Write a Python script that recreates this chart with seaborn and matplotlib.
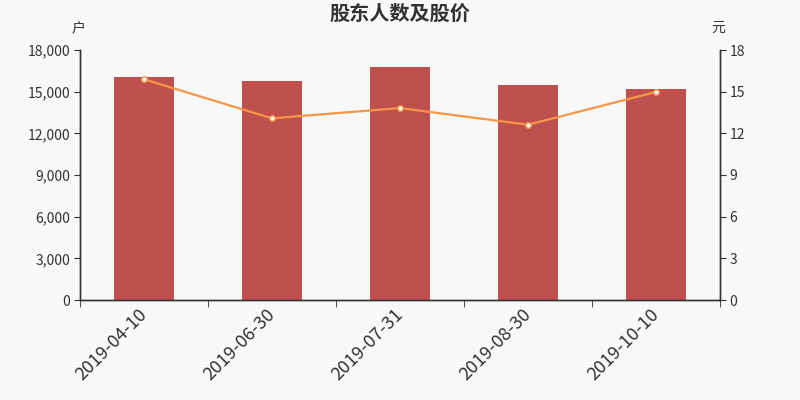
import matplotlib
matplotlib.use("Agg")
import matplotlib.pyplot as plt
import matplotlib.transforms as mtransforms
import numpy as np
import pandas as pd
import seaborn as sns
from matplotlib.ticker import FuncFormatter, MultipleLocator, FixedLocator

# data
dates = ["2019-04-10", "2019-06-30", "2019-07-31", "2019-08-30", "2019-10-10"]
holders = [16060, 15750, 16800, 15460, 15170]
prices = [15.89, 13.08, 13.82, 12.62, 14.98]

df = pd.DataFrame({"date": dates, "holders": holders, "price": prices})

sns.set_style("white")
plt.rcParams["font.family"] = ["Noto Sans CJK SC", "DejaVu Sans"]

bg = "#f8f8f8"
dark = "#333333"
fig = plt.figure(figsize=(8, 4), dpi=100, facecolor=bg)
ax = fig.add_axes([0.1, 0.25, 0.8, 0.625])
ax.set_facecolor(bg)

sns.barplot(data=df, x="date", y="holders", color="#c0504d", saturation=1,
            width=0.47, linewidth=0, ax=ax)
ax.set_xlim(-0.5, 4.5)
ax.set_ylim(0, 18000)
ax.yaxis.set_major_locator(MultipleLocator(3000))
ax.yaxis.set_major_formatter(FuncFormatter(lambda v, p: f"{int(v):,}"))
ax.set_xlabel("")
ax.set_ylabel("")

ax2 = ax.twinx()
sns.lineplot(data=df, x="date", y="price", sort=False, color="#f79646",
             linewidth=1.6, marker="o", markersize=4, markerfacecolor="white",
             markeredgecolor="#f79646", markeredgewidth=1, ax=ax2)
ax2.set_ylim(0, 18)
ax2.yaxis.set_major_locator(MultipleLocator(3))
ax2.set_xlim(-0.5, 4.5)
ax2.set_ylabel("")
ax2.set_xlabel("")

for a in (ax, ax2):
    a.spines["top"].set_visible(False)
    for s in ("left", "right", "bottom"):
        a.spines[s].set_color(dark)
        a.spines[s].set_linewidth(1)

ax.tick_params(axis="y", left=True, length=4, color=dark, labelsize=10, labelcolor=dark, pad=3)
ax2.tick_params(axis="y", right=True, length=4, color=dark, labelsize=10, labelcolor=dark, pad=3)

# x ticks: labels at bar centres, tick marks at category boundaries
ax.xaxis.set_major_locator(FixedLocator(range(len(dates))))
ax.set_xticklabels(dates, rotation=45, ha="right", rotation_mode="anchor",
                   fontsize=13, color=dark)
ax.tick_params(axis="x", which="major", length=0, pad=10)
ax.xaxis.set_minor_locator(FixedLocator(np.arange(-0.5, len(dates), 1.0)))
ax.tick_params(axis="x", which="minor", bottom=True, length=5, color=dark)
shift = mtransforms.ScaledTranslation(-6 / 100, 8 / 100, fig.dpi_scale_trans)
for lab in ax.get_xticklabels():
    lab.set_transform(lab.get_transform() + shift)

fig.text(0.5, 0.967, "股东人数及股价", ha="center", va="center",
         fontsize=14.5, fontweight="bold", color=dark)
fig.text(0.098, 0.93, "户", ha="center", va="center", fontsize=10, color=dark)
fig.text(0.898, 0.93, "元", ha="center", va="center", fontsize=10, color=dark)

fig.savefig("out.png", dpi=100, facecolor=bg)
